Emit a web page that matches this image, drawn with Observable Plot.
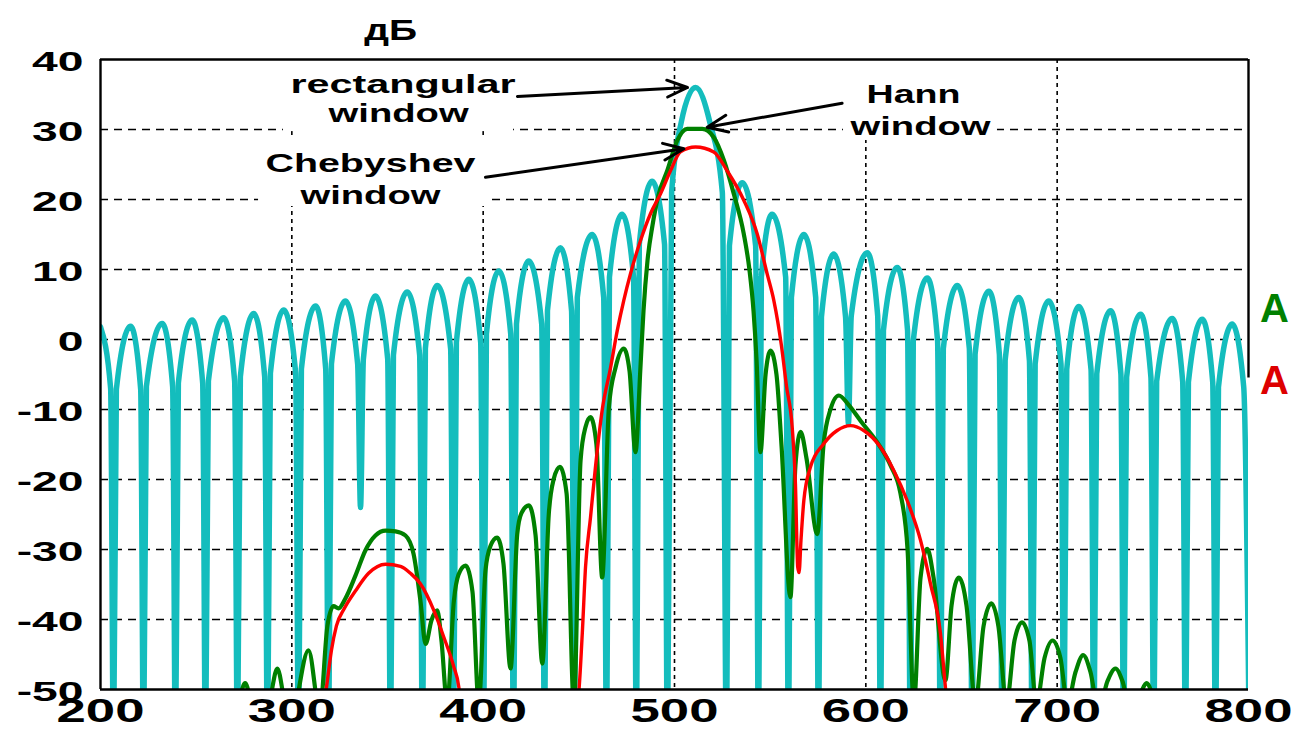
<!DOCTYPE html>
<html><head><meta charset="utf-8">
<script src="https://cdn.jsdelivr.net/npm/d3@7"></script>
<script src="https://cdn.jsdelivr.net/npm/@observablehq/plot@0.6"></script>
<style>html,body{margin:0;padding:0;background:#fff;overflow:hidden}svg{display:block}</style>
</head><body><div id="chart"></div>
<script>
// ---------- data ----------
const xTicks = [200, 300, 400, 500, 600, 700, 800];
const xTickLabels = ["200", "300", "400", "500", "600", "700", "800"];
const yTicks = [40, 30, 20, 10, 0, -10, -20, -30, -40, -50];
const yTickLabels = ["40", "30", "20", "10", "0", "-10", "-20", "-30", "-40", "-50"];
const xGrid = [300, 400, 500, 600, 700];
const yGrid = [30, 20, 10, 0, -10, -20, -30, -40];
const axisTitle = "дБ";

// rectangular window (cyan)
const rectangularX = [200,205.3,206.8,208.3,215.7,221.0,222.5,224.0,232.2,237.7,239.2,240.7,247.9,253.4,254.9,256.4,264.4,270.1,271.6,273.1,280.1,285.8,287.3,288.8,295.8,302.0,303.5,305.0,312.4,317.7,319.2,320.7,328.0,334.4,335.9,337.4,343.7,350.1,351.6,353.1,360.3,366.8,368.3,369.8,376.0,383.0,384.5,386.0,392.5,398.7,400.2,401.7,408.2,414.4,415.9,417.4,423.8,430.6,432.1,433.6,440.4,446.2,447.7,449.2,457.0,463.0,464.5,466.0,472.6,478.6,480.1,481.6,488.3,494.8,496.3,498.5,503.5,511.0,518.5,525.0,527.2,528.7,535.4,542.4,543.9,545.4,551.0,558.1,559.6,561.1,567.6,573.8,575.3,576.8,583.2,589.4,590.9,592.4,600.7,606.2,607.7,609.2,616.4,621.8,623.3,624.8,632.1,637.5,639.0,640.5,647.8,654.1,655.6,657.1,664.3,669.8,671.3,672.8,679.9,685.5,687.0,688.5,695.6,702.0,703.5,705.0,711.3,717.7,719.2,720.7,727.9,733.3,734.8,736.3,743.6,749.0,750.5,752.0,760.1,765.6,767.1,768.6,775.8,781.3,782.8,784.3,791.5,797.5,800.5];
const rectangularDb = [1.8,-7,-60,-7.1,1.9,-7.1,-60,-6.7,2.3,-6.7,-60,-6.2,2.8,-6.2,-60,-5.9,3.1,-5.9,-60,-5.3,3.7,-5.3,-60,-4.8,4.2,-4.8,-60,-4.2,4.8,-4.2,-60,-3.5,5.5,-3.5,-24,-2.8,6.2,-2.8,-60,-2.2,6.8,-2.2,-60,-1.3,7.7,-1.3,-60,-0.4,8.6,-0.4,-60,0.8,9.8,0.8,-60,2.2,11.2,2.2,-60,4.1,13.1,4.1,-60,6.0,15.0,6.0,-60,8.9,17.9,8.9,-60,13.6,22.6,13.6,-60,21,31,36.0,31,21,-60,13.4,22.4,13.4,-60,8.9,17.9,8.9,-60,6.0,15.0,6.0,-60,3.2,12.2,3.2,-12,3.4,12.4,3.4,-60,1.3,10.3,1.3,-60,-0.2,8.8,-0.2,-60,-1.3,7.7,-1.3,-60,-2.1,6.9,-2.1,-60,-3.0,6.0,-3.0,-60,-3.5,5.5,-3.5,-60,-4.3,4.7,-4.3,-60,-4.9,4.1,-4.9,-60,-5.4,3.6,-5.4,-60,-6.0,3.0,-6.0,-60,-6.1,2.9,-6.1,-60,-6.8,2.2,-6.8,-60];

// Hann window (green)
const hannX = [268,272.6,275.6,278.4,283.0,288.9,292.4,295.6,299.0,303.0,308.7,314.6,318.6,321.8,324.4,328.0,333.3,338.5,343.7,349.0,354.2,359.4,363.6,367.2,369.9,373.0,376.0,378.2,381.2,384.7,387.1,390.8,394.4,397.7,401.2,403.8,407.3,410.6,414.3,417.8,420.0,423.9,427.4,430.9,434.3,436.8,440.1,443.6,447.4,450.9,453.5,456.1,459.2,462.2,465.7,469.2,473.5,476.5,479.6,482.2,483.8,485.9,488.5,491.6,496.2,501.4,506.6,514.5,520.5,525.8,531.0,536.2,539.2,541.3,542.9,544.9,547.6,550.2,553.3,555.9,560.6,563.2,565.9,569.0,574.6,577.9,581.5,585.9,590.9,597.2,607.7,612.9,618.1,621.8,625.1,628.6,632.1,635.4,641.6,644.8,648.6,652.6,657.3,661.5,665.6,669.3,673.5,677.7,681.6,685.5,689.2,693.4,697.6,701.7,705.4,709.6,713.6,717.4,721.6,726.3,730.5,734.1,738.3,743.6,746.7,749.8,752.0];
const hannDb = [-58,-51.5,-49.1,-51.5,-58,-51,-47.0,-51,-58,-51,-44.4,-53,-40.9,-38.1,-38.4,-37.0,-33.7,-30.1,-28.0,-27.3,-27.4,-28.0,-30.6,-37.3,-43.5,-40.1,-38.7,-43.0,-52,-37.3,-33.6,-32.3,-36.0,-52,-33,-29.5,-28.3,-32.0,-47.0,-27.8,-24.8,-23.7,-28.0,-46.3,-24.9,-20.0,-18.2,-22.0,-52,-17.3,-12.5,-11.1,-15.0,-34.0,-9.7,-4.0,-1.3,-4.5,-16.1,-4.0,4.1,11.3,16.3,20.6,24.1,28.4,30.1,30.1,28.9,25.6,20.8,15.1,9.9,4.1,-3.0,-16.1,-5.0,-1.6,-5.0,-15.0,-36.8,-18.0,-13.2,-17.0,-27.8,-15.0,-10.0,-8.0,-9.3,-11.6,-15.4,-18.0,-22.0,-30.0,-52,-34.0,-29.9,-34.0,-48.7,-38.0,-34.0,-38.0,-52,-41.0,-37.7,-41.0,-52,-43.0,-40.4,-43.0,-52,-45.5,-43.0,-45.5,-52,-47.5,-45.1,-47.5,-53,-48.8,-47.0,-48.8,-53,-50.5,-49.1,-51,-58];

// Chebyshev window (red)
const chebyshevX = [316.0,317.1,318.6,320.7,323.3,327.5,333.3,340.1,349.0,356.8,362.0,367.2,374.2,379.4,384.7,387.3,388.2,420.0,449.3,451.8,453.5,456.1,458.7,462.2,466.6,470.1,473.5,477.0,482.2,487.5,492.7,497.9,503.1,511.0,520.5,527.5,536.2,543.2,548.4,551.9,555.9,558.5,561.5,563.2,564.4,565.1,566.1,567.6,571.1,578.0,585.0,592.0,598.9,607.7,614.6,621.6,628.6,633.8,639.0,641.6,642.4,645.0];
const chebyshevDb = [-56,-52,-48.7,-44.4,-40.9,-38.4,-35.9,-33.4,-32.1,-32.4,-33.4,-34.9,-38.7,-42.5,-46.8,-49.7,-52,-62,-52,-42.0,-32.5,-25.4,-18.2,-10.1,-4.0,1.3,5.6,9.4,14.1,18.0,20.8,24.1,26.8,27.5,26.8,24.1,19.9,15.1,9.4,5.6,-0.9,-6.6,-12.5,-20.6,-32.5,-33.3,-28.7,-23.0,-18.2,-14.9,-13.0,-12.3,-13.0,-15.4,-18.7,-23.0,-28.7,-34.9,-42.0,-49.7,-52,-60];

// annotations
const labelText = ["rectangular", "window", "Chebyshev", "window", "Hann", "window"];
const labelX = [358.1, 355.8, 341.1, 341.1, 624.9, 628.6];
const labelY = [36.36, 32.21, 25.04, 20.53, 34.86, 30.33];
const arrowX1 = [417.9, 587.6, 401.2];
const arrowY1 = [34.71, 33.76, 23.19];
const arrowX2 = [506.8, 517.1, 504.9];
const arrowY2 = [36.0, 30.33, 27.24];
const boxX1 = [295.6, 282.6, 588.3];
const boxX2 = [415.9, 402.0, 668.8];
const boxY1 = [39.86, 28.71, 39.86];
const boxY2 = [29.7, 19.0, 28.43];
const seriesTags = ["A", "A"];
const seriesTagY = [4.3, -5.93];

// ---------- build tables ----------
const pts = (xs, ys) => xs.map((x, i) => ({x, y: ys[i]}));
const rectangular = pts(rectangularX, rectangularDb);
const hann = pts(hannX, hannDb);
const chebyshev = pts(chebyshevX, chebyshevDb);
const labels = labelText.map((t, i) => ({t, x: labelX[i], y: labelY[i]}));
const arrows = arrowX1.map((x1, i) => ({x1, y1: arrowY1[i], x2: arrowX2[i], y2: arrowY2[i]}));
const boxes = boxX1.map((x1, i) => ({x1, x2: boxX2[i], y1: boxY1[i], y2: boxY2[i]}));
const xTickData = xTicks.map((v, i) => ({v, label: xTickLabels[i]}));
const yTickData = yTicks.map((v, i) => ({v, label: yTickLabels[i]}));

const FONT = "'Liberation Sans', Arial, Helvetica, sans-serif";

const chart = Plot.plot({
  width: 1291, height: 729,
  marginLeft: 100, marginRight: 43, marginTop: 59, marginBottom: 40,
  x: {domain: [200, 800], axis: null},
  y: {domain: [-50, 40], axis: null},
  style: {fontFamily: FONT, background: "white", overflow: "visible"},
  marks: [
    Plot.ruleY(yGrid, {y: d => d, stroke: "#000", strokeWidth: 1.4, strokeDasharray: "8,6"}),
    Plot.ruleX(xGrid, {x: d => d, stroke: "#000", strokeWidth: 1.6, strokeDasharray: "4,4"}),
    Plot.rect(boxes, {x1: "x1", x2: "x2", y1: "y1", y2: "y2", fill: "white"}),
    Plot.line(rectangular, {x: "x", y: "y", stroke: "#14bdbd", strokeWidth: 5.5, curve: "monotone-x", clip: true, strokeLinejoin: "round"}),
    Plot.line(hann, {x: "x", y: "y", stroke: "#008000", strokeWidth: 4.2, curve: "monotone-x", clip: true, strokeLinejoin: "round"}),
    Plot.line(chebyshev, {x: "x", y: "y", stroke: "#ff0000", strokeWidth: 3.4, curve: "monotone-x", clip: true, strokeLinejoin: "round"}),
    Plot.ruleY([40, -50], {y: d => d, stroke: "#000", strokeWidth: 2.4}),
    Plot.ruleX([200], {x: d => d, stroke: "#000", strokeWidth: 2.4}),
    Plot.ruleX([{x: 800, y1: 40, y2: -5.5}], {x: "x", y1: "y1", y2: "y2", stroke: "#000", strokeWidth: 2.4}),
    Plot.text(labels, {x: "x", y: "y", text: "t", fontSize: 25, fontWeight: "bold", textAnchor: "middle", lineAnchor: "middle", fill: "#000"}),
    Plot.arrow(arrows, {x1: "x1", y1: "y1", x2: "x2", y2: "y2", stroke: "#000", strokeWidth: 3, headLength: 11, headAngle: 45}),
    Plot.text(yTickData, {y: "v", text: "label", frameAnchor: "left", textAnchor: "end", lineAnchor: "middle", dx: -17, dy: 3, fontSize: 28, fontWeight: "bold", fill: "#000"}),
    Plot.text(xTickData, {x: "v", text: "label", frameAnchor: "bottom", textAnchor: "middle", lineAnchor: "top", dy: 8, fontSize: 34, fontWeight: "bold", fill: "#000"}),
    Plot.text([{x: 351.6, y: 44.09, t: axisTitle}], {x: "x", y: "y", text: "t", fontSize: 30, fontWeight: "bold", textAnchor: "middle", lineAnchor: "middle", fill: "#000"}),
    Plot.text([{x: 806.0, y: seriesTagY[0], t: seriesTags[0]}], {x: "x", y: "y", text: "t", fontSize: 40, fontWeight: "bold", textAnchor: "start", lineAnchor: "middle", fill: "#008000"}),
    Plot.text([{x: 806.0, y: seriesTagY[1], t: seriesTags[1]}], {x: "x", y: "y", text: "t", fontSize: 40, fontWeight: "bold", textAnchor: "start", lineAnchor: "middle", fill: "#dd0000"})
  ]
});
document.getElementById("chart").appendChild(chart);

// widen glyphs to match the extended lettering of the original
const stretchBySize = {28: 1.65, 34: 1.55, 30: 1.3};
const widthByText = {rectangular: 225, Chebyshev: 210, Hann: 94, window: 140};
chart.querySelectorAll("text").forEach(t => {
  const fs = Math.round(parseFloat(getComputedStyle(t).fontSize));
  const w = t.getComputedTextLength();
  let target = null;
  if (fs === 25 && widthByText[t.textContent] != null) target = widthByText[t.textContent];
  else if (stretchBySize[fs]) target = w * stretchBySize[fs];
  if (target) {
    t.setAttribute("textLength", target);
    t.setAttribute("lengthAdjust", "spacingAndGlyphs");
  }
});
</script>
</body></html>
